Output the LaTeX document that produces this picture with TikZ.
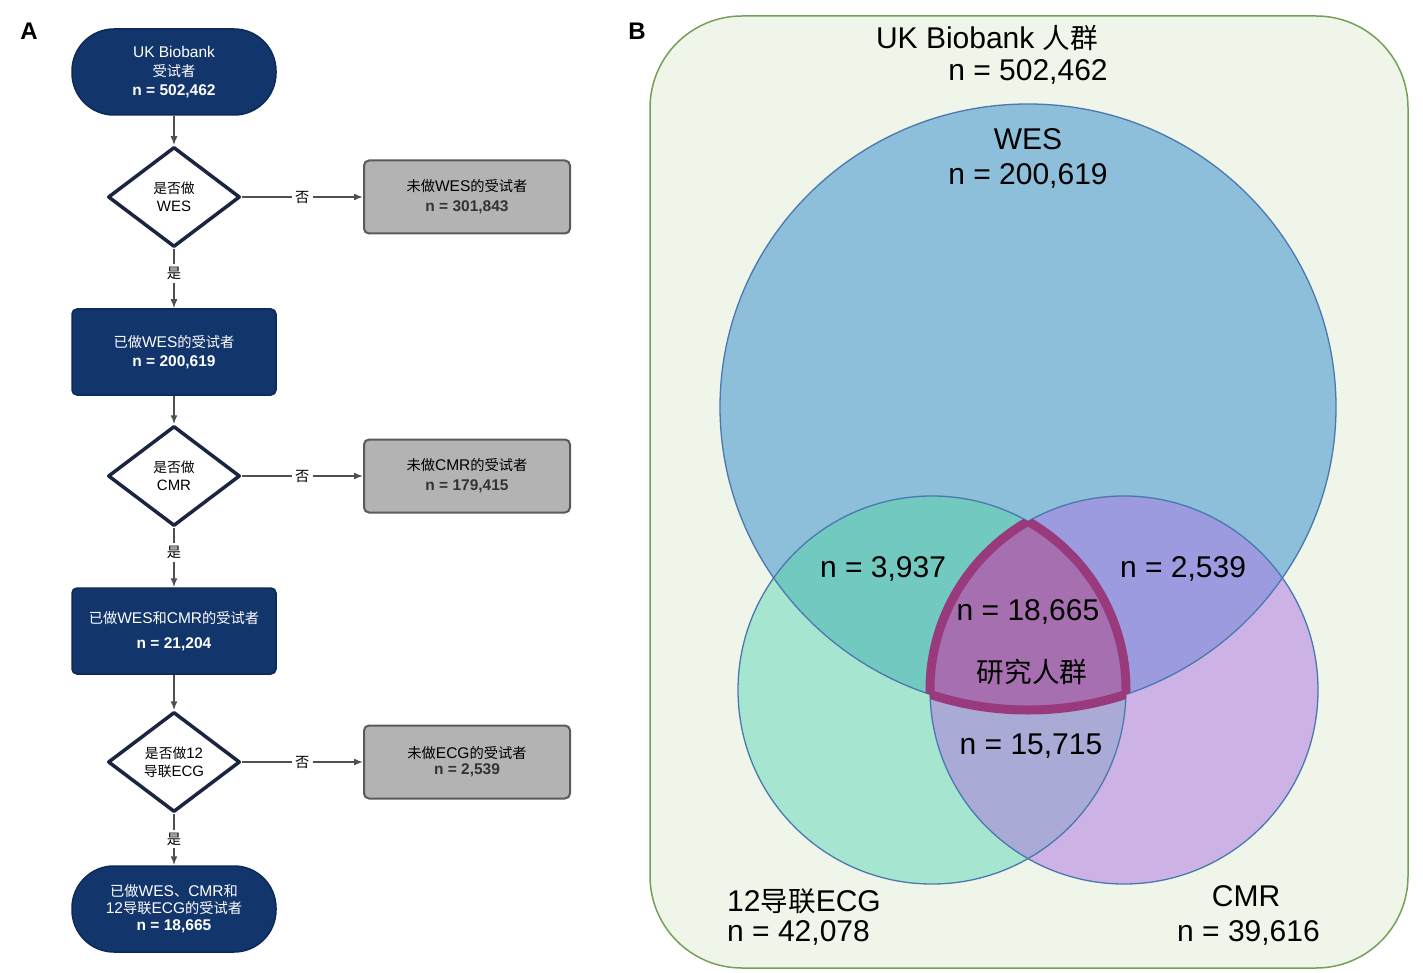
\documentclass[tikz,border=0pt]{standalone}
\usepackage{fontspec}
\setmainfont{Liberation Sans}
\newfontfamily\cjk[Scale=0.92]{Noto Sans CJK SC}
\usetikzlibrary{shapes.geometric,arrows.meta}
\definecolor{navy}{HTML}{12356B}
\definecolor{navyB}{HTML}{0C2A58}
\definecolor{gry}{HTML}{B3B3B3}
\definecolor{gryB}{HTML}{5A5A5A}
\definecolor{decB}{HTML}{1B2440}
\definecolor{arrC}{HTML}{505050}
\definecolor{bgG}{HTML}{EFF5E8}
\definecolor{bgB}{HTML}{74A05A}
\definecolor{wesC}{HTML}{8DBEDA}
\definecolor{ecgC}{HTML}{A6E5CF}
\definecolor{cmrC}{HTML}{CDB2E6}
\definecolor{weC}{HTML}{72C9C0}
\definecolor{wcC}{HTML}{9C9BDF}
\definecolor{ecC}{HTML}{A9AAD6}
\definecolor{triC}{HTML}{A670B0}
\definecolor{triB}{HTML}{993A7C}
\definecolor{cirB}{HTML}{4A78B0}
\begin{document}
\begin{tikzpicture}[x=1pt,y=-1pt,
  navybox/.style={draw=navyB, fill=navy, line width=1.5pt, rounded corners=5pt,
    minimum width=204pt, minimum height=86pt, text=white, align=center,
    font=\fontsize{15.5}{19}\selectfont, inner sep=0pt},
  term/.style={navybox, rounded corners=42pt},
  grybox/.style={draw=gryB, fill=gry, line width=2pt, rounded corners=5pt,
    minimum width=206pt, minimum height=73pt, align=center, text=black,
    font=\fontsize{15.5}{20}\selectfont, inner sep=0pt},
  dec/.style={diamond, draw=decB, fill=white, line width=3.5pt, line join=round,
    minimum width=132pt, minimum height=100pt, inner sep=0pt, aspect=1.32,
    align=center, font=\fontsize{15}{18}\selectfont},
  arr/.style={draw=arrC, line width=1.5pt, -{Latex[length=9pt,width=7pt]}},
  lab/.style={fill=white, font=\fontsize{15.5}{16}\selectfont\cjk, inner sep=3pt},
  panel/.style={font=\fontsize{24}{24}\selectfont\bfseries},
  vt/.style={font=\fontsize{30}{34}\selectfont, inner sep=0pt},
  bt/.style={font=\fontsize{30}{32}\selectfont, inner sep=0pt}
]
\useasboundingbox (0,0) rectangle (1423,973);
% ---------- Panel A ----------
\node[panel] (A) at (29,31) {A};
\node[term] (s) at (174,72) {UK Biobank\\{\cjk 受试者}\\\textbf{n = 502,462}};
\node[dec] (d1) at (174,197) {{\cjk 是否做}\\WES};
\node[grybox] (g1) at (467,197) {{\cjk 未做}WES{\cjk 的受试者}\\\textcolor{black!80}{\textbf{n = 301,843}}};
\node[navybox] (b2) at (174,352) {{\cjk 已做}WES{\cjk 的受试者}\\\textbf{n = 200,619}};
\node[dec] (d2) at (174,476) {{\cjk 是否做}\\CMR};
\node[grybox] (g2) at (467,476) {{\cjk 未做}CMR{\cjk 的受试者}\\\textcolor{black!80}{\textbf{n = 179,415}}};
\node[navybox] (b3) at (174,631) {{\cjk 已做}WES{\cjk 和}CMR{\cjk 的受试者}\\[6pt]\textbf{n = 21,204}};
\node[dec] (d3) at (174,762) {{\cjk 是否做}12\\{\cjk 导联}ECG};
\node[grybox] (g3) at (467,762) {{\cjk 未做}ECG{\cjk 的受试者}\\[-4pt]\textcolor{black!80}{\textbf{n = 2,539}}};
\node[term, font=\fontsize{15.5}{17}\selectfont] (e) at (174,909) {{\cjk 已做}WES{\cjk 、}CMR{\cjk 和}\\12{\cjk 导联}ECG{\cjk 的受试者}\\\textbf{n = 18,665}};
\draw[arr] (s.south) -- (d1.north);
\draw[arr] (d1.east) -- node[lab]{否} (g1.west);
\draw[arr] (d1.south) -- node[lab,pos=0.42]{是} (b2.north);
\draw[arr] (b2.south) -- (d2.north);
\draw[arr] (d2.east) -- node[lab]{否} (g2.west);
\draw[arr] (d2.south) -- node[lab,pos=0.42]{是} (b3.north);
\draw[arr] (b3.south) -- (d3.north);
\draw[arr] (d3.east) -- node[lab]{否} (g3.west);
\draw[arr] (d3.south) -- node[lab,pos=0.49]{是} (e.north);
% ---------- Panel B ----------
\node[panel] (B) at (637,31) {B};
\draw[fill=bgG, draw=bgB, line width=1.5pt, rounded corners=92pt] (650,16) rectangle (1408,968);
\coordinate (wes) at (1028,407);
\coordinate (ecg) at (932,690);
\coordinate (cmr) at (1124,690);
\def\wesP{(wes) ellipse[x radius=308pt, y radius=303pt]}
\def\ecgP{(ecg) circle[radius=194pt]}
\def\cmrP{(cmr) circle[radius=194pt]}
\fill[wesC] \wesP;
\fill[ecgC] \ecgP;
\fill[cmrC] \cmrP;
\begin{scope}
  \clip \wesP;
  \fill[weC] \ecgP;
  \fill[wcC] \cmrP;
\end{scope}
\begin{scope}
  \clip \ecgP;
  \fill[ecC] \cmrP;
\end{scope}
\begin{scope}
  \clip \wesP;
  \clip \ecgP;
  \fill[triC] \cmrP;
\end{scope}
\draw[cirB, line width=1.3pt] \wesP;
\draw[cirB, line width=1.3pt] \ecgP;
\draw[cirB, line width=1.3pt] \cmrP;
\begin{scope}
  \clip \wesP;
  \clip \ecgP;
  \draw[triB, line width=9pt] \cmrP;
\end{scope}
\begin{scope}
  \clip \wesP;
  \clip \cmrP;
  \draw[triB, line width=9pt] \ecgP;
\end{scope}
\begin{scope}
  \clip \ecgP;
  \clip \cmrP;
  \draw[triB, line width=9pt] \wesP;
\end{scope}
\node[vt] (t1) at (987,38) {UK Biobank {\cjk 人群}};
\node[vt] (t2) at (1028,72) {n = 502,462};
\node[vt] (t3) at (1028,139) {WES};
\node[vt] (t4) at (1028,176) {n = 200,619};
\node[vt] (t5) at (883,569) {n = 3,937};
\node[vt] (t6) at (1183,569) {n = 2,539};
\node[vt] (t7) at (1028,612) {n = 18,665};
\node[vt] (t8) at (1032,672) {\cjk 研究人群};
\node[vt] (t9) at (1031,746) {n = 15,715};
\node[bt, anchor=west] (t10) at (727,901) {12{\cjk 导联}ECG};
\node[bt, anchor=west] (t11) at (727,933) {n = 42,078};
\node[bt] (t12) at (1246,896) {CMR};
\node[bt, anchor=east] (t13) at (1320,933) {n = 39,616};
\end{tikzpicture}
\end{document}
